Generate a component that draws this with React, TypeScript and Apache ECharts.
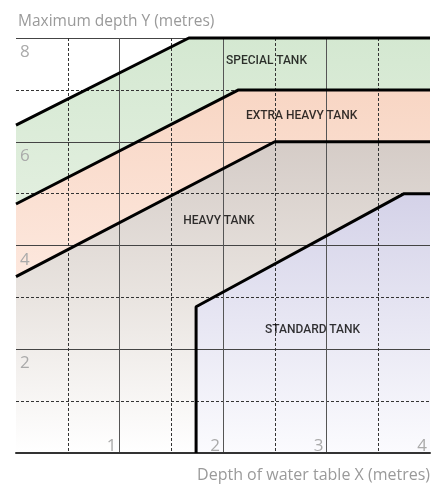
import React, { useEffect, useRef } from "react";
import * as echarts from "echarts";

const regionNames = ["SPECIAL TANK", "EXTRA HEAVY TANK", "HEAVY TANK", "STANDARD TANK"];
const specialUpper = [[0, 6.32], [1.67, 8], [4, 8]];
const extraHeavyUpper = [[0, 4.8], [2.15, 7], [4, 7]];
const heavyUpper = [[0, 3.4], [2.5, 6], [4, 6]];
const standardUpper = [[1.74, 0], [1.74, 2.82], [3.75, 5], [4, 5]];
const labelPoints = [[2.42, 7.58], [2.76, 6.52], [1.96, 4.49], [2.865, 2.4]];
const xTickLabels = ["", "1", "2", "3", "4"];
const yTickLabels = ["", "2", "4", "6", "8"];
const xTitle = "Depth of water table X (metres)";
const yTitle = "Maximum depth Y (metres)";

const grad = (stops: [number, string][]) =>
  new echarts.graphic.LinearGradient(0, 0, 0, 1, stops.map(([offset, color]) => ({ offset, color })));

export default function App() {
  const ref = useRef<HTMLDivElement>(null);
  useEffect(() => {
    if (!ref.current) return;
    const chart = echarts.init(ref.current, null, { renderer: "svg" });
    const fills = [
      grad([[0, "#d4e8d1"], [0.4, "#e2efdf"], [1, "#ffffff"]]),
      grad([[0, "#f8d6c4"], [0.52, "#fde8de"], [1, "#ffffff"]]),
      grad([[0, "#d5ccc7"], [0.5, "#e9e4e0"], [1, "#ffffff"]]),
      grad([[0, "#d4d2e8"], [1, "#fbfbfe"]]),
    ];
    const boundaries = [specialUpper, extraHeavyUpper, heavyUpper, standardUpper];
    const areaSeries = boundaries.map((d, i) => ({
      type: "line",
      data: d,
      symbol: "none",
      z: 2,
      lineStyle: { width: 0 },
      areaStyle: { color: fills[i], opacity: 1 },
      silent: true,
    }));
    const lineSeries = boundaries.map((d) => ({
      type: "line",
      data: d,
      symbol: "none",
      z: 5,
      clip: false,
      lineStyle: { width: 3, color: "#000" },
      silent: true,
    }));
    chart.setOption({
      animation: false,
      grid: { left: 16, right: 14, top: 38, bottom: 34 },
      xAxis: {
        type: "value",
        min: 0,
        max: 4,
        interval: 1,
        z: 3,
        name: xTitle,
        nameLocation: "end",
        nameGap: 0,
        nameTextStyle: {
          fontFamily: "Open Sans",
          fontSize: 16,
          color: "#9a9a9a",
          align: "right",
          verticalAlign: "top",
          padding: [13, 0, 0, 0],
        },
        axisLine: { show: true, lineStyle: { color: "#333", width: 2 } },
        axisTick: { show: false },
        axisLabel: {
          inside: true,
          margin: 0,
          align: "right",
          verticalAlign: "bottom",
          padding: [0, 3, 0, 0],
          fontFamily: "Open Sans",
          fontSize: 17,
          color: "#aaaaaa",
          formatter: (v: number) => xTickLabels[Math.round(v)] ?? "",
        },
        splitLine: { show: true, showMinLine: false, showMaxLine: false, lineStyle: { color: "#555", width: 1 } },
        minorTick: { show: false, splitNumber: 2 },
        minorSplitLine: { show: true, lineStyle: { color: "#333", width: 1, type: [3, 2] } },
      },
      yAxis: {
        type: "value",
        min: 0,
        max: 8,
        interval: 2,
        z: 3,
        name: yTitle,
        nameLocation: "end",
        nameGap: 10,
        nameTextStyle: {
          fontFamily: "Open Sans",
          fontSize: 15.5,
          color: "#9a9a9a",
          align: "left",
          verticalAlign: "bottom",
          padding: [0, 0, 0, 2],
        },
        axisLine: { show: false },
        axisTick: { show: false },
        axisLabel: {
          inside: true,
          margin: 4,
          align: "left",
          verticalAlign: "top",
          padding: [4, 0, 0, 0],
          fontFamily: "Open Sans",
          fontSize: 17,
          color: "#aaaaaa",
          formatter: (v: number) => yTickLabels[Math.round(v / 2)] ?? "",
        },
        splitLine: { show: true, showMinLine: false, showMaxLine: true, lineStyle: { color: "#444", width: 1 } },
        minorTick: { show: false, splitNumber: 2 },
        minorSplitLine: { show: true, lineStyle: { color: "#333", width: 1, type: [3, 2] } },
      },
      series: [
        ...areaSeries,
        ...lineSeries,
        {
          type: "scatter",
          z: 6,
          symbolSize: 0,
          silent: true,
          data: labelPoints.map((p, i) => ({ value: p, name: regionNames[i] })),
          label: {
            show: true,
            position: "inside",
            formatter: "{b}",
            fontFamily: "Roboto",
            fontWeight: 500,
            fontSize: 12,
            color: "#000000",
          },
        },
      ],
    });
    return () => chart.dispose();
  }, []);
  return <div ref={ref} style={{ position: "fixed", left: 0, top: 0, width: 444, height: 487 }} />;
}
